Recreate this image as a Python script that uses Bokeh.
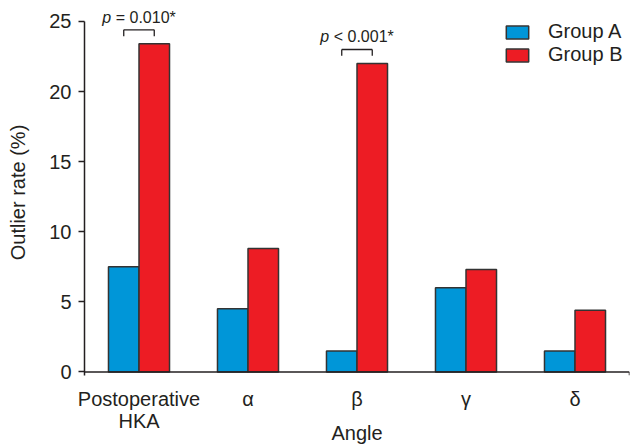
from bokeh.plotting import figure
from bokeh.models import ColumnDataSource, FactorRange, Range1d, FixedTicker, Span
from bokeh.transform import dodge
from bokeh.core.properties import value
from bokeh.embed import file_html
from bokeh.resources import INLINE

# ---- data ----
categories = ["Postoperative\nHKA", "α", "β", "γ", "δ"]
group_a = [7.5, 4.5, 1.5, 6.0, 1.5]
group_b = [23.4, 8.8, 22.0, 7.3, 4.4]
y_ticks = [0, 5, 10, 15, 20, 25]
sig_categories = ["Postoperative\nHKA", "β"]
sig_group_b = [23.4, 22.0]
sig_labels = ["= 0.010*", "< 0.001*"]

FONT = "Liberation Sans"
INK = "#231f20"
BLUE = "#0096d8"
RED = "#ed1c24"
Y0 = -0.256

src = ColumnDataSource(dict(cat=categories, a=group_a, b=group_b))

p = figure(
    width=630, height=446,
    x_range=FactorRange(*categories, range_padding=0, factor_padding=0),
    y_range=Range1d(Y0, 25.852),
    output_backend="svg", toolbar_location=None,
    min_border_left=84, min_border_right=1, min_border_top=9, min_border_bottom=20,
)
p.outline_line_color = None
p.xgrid.visible = False
p.ygrid.visible = False

p.vbar(x=dodge("cat", -0.14, range=p.x_range), top="a", width=0.28, source=src,
       fill_color=BLUE, line_color="#333333", line_width=1.5, legend_label="Group A")
p.vbar(x=dodge("cat", 0.14, range=p.x_range), top="b", width=0.28, source=src,
       fill_color=RED, line_color="#333333", line_width=1.5, legend_label="Group B")

# baseline and end tick
p.add_layout(Span(location=0, dimension="width", line_color=INK, line_width=1.5))
p.segment(x0=[len(categories)], x1=[len(categories)], y0=[0], y1=[Y0],
          line_color=INK, line_width=1.5)

# significance brackets
top = [v + 1.0 for v in sig_group_b]
leg = [v + 0.55 for v in sig_group_b]
txt_y = [v + 1.9 for v in sig_group_b]
bsrc = ColumnDataSource(dict(cat=sig_categories, top=top, leg=leg, ty=txt_y, lab=sig_labels))
p.segment(x0=dodge("cat", -0.14, range=p.x_range), x1=dodge("cat", 0.14, range=p.x_range),
          y0="top", y1="top", source=bsrc, line_color=INK, line_width=1.3)
p.segment(x0=dodge("cat", -0.14, range=p.x_range), x1=dodge("cat", -0.14, range=p.x_range),
          y0="top", y1="leg", source=bsrc, line_color=INK, line_width=1.3)
p.segment(x0=dodge("cat", 0.14, range=p.x_range), x1=dodge("cat", 0.14, range=p.x_range),
          y0="top", y1="leg", source=bsrc, line_color=INK, line_width=1.3)
p.text(x="cat", y="ty", text=value("p"), source=bsrc, x_offset=-36.7,
       text_font=value(FONT), text_font_style="italic", text_font_size="16px",
       text_align="left", text_baseline="middle", text_color=INK)
p.text(x="cat", y="ty", text="lab", source=bsrc, x_offset=-23.3,
       text_font=value(FONT), text_font_size="16px",
       text_align="left", text_baseline="middle", text_color=INK)

# y axis
ya = p.yaxis[0]
ya.ticker = FixedTicker(ticks=y_ticks)
ya.bounds = (Y0, 25)
ya.axis_line_color = INK
ya.axis_line_width = 1.5
ya.major_tick_line_color = INK
ya.major_tick_line_width = 1.5
ya.major_tick_out = 6
ya.major_tick_in = 0
ya.minor_tick_line_color = None
ya.major_label_standoff = 7
ya.major_label_text_font = FONT
ya.major_label_text_font_size = "20px"
ya.major_label_text_color = INK
ya.axis_label = "Outlier rate (%)"
ya.axis_label_text_font = FONT
ya.axis_label_text_font_size = "20px"
ya.axis_label_text_font_style = "normal"
ya.axis_label_text_color = INK
ya.axis_label_standoff = 17

# x axis
xa = p.xaxis[0]
xa.axis_line_color = None
xa.major_tick_line_color = None
xa.major_tick_out = 0
xa.major_tick_in = 0
xa.minor_tick_line_color = None
xa.major_label_standoff = 12
xa.major_label_text_font = FONT
xa.major_label_text_font_size = "20px"
xa.major_label_text_color = INK
xa.major_label_text_line_height = 1.0
xa.axis_label = "Angle"
xa.axis_label_text_font = FONT
xa.axis_label_text_font_size = "20px"
xa.axis_label_text_font_style = "normal"
xa.axis_label_text_color = INK
xa.axis_label_standoff = -13

# legend
lg = p.legend[0]
lg.location = (419, 309)
lg.border_line_color = None
lg.background_fill_alpha = 0
lg.padding = 0
lg.margin = 0
lg.spacing = 0
lg.glyph_width = 28
lg.glyph_height = 16
lg.label_height = 16
lg.label_standoff = 17
lg.label_text_font = FONT
lg.label_text_font_size = "20px"
lg.label_text_color = INK

open("out.html", "w").write(file_html(p, INLINE))
